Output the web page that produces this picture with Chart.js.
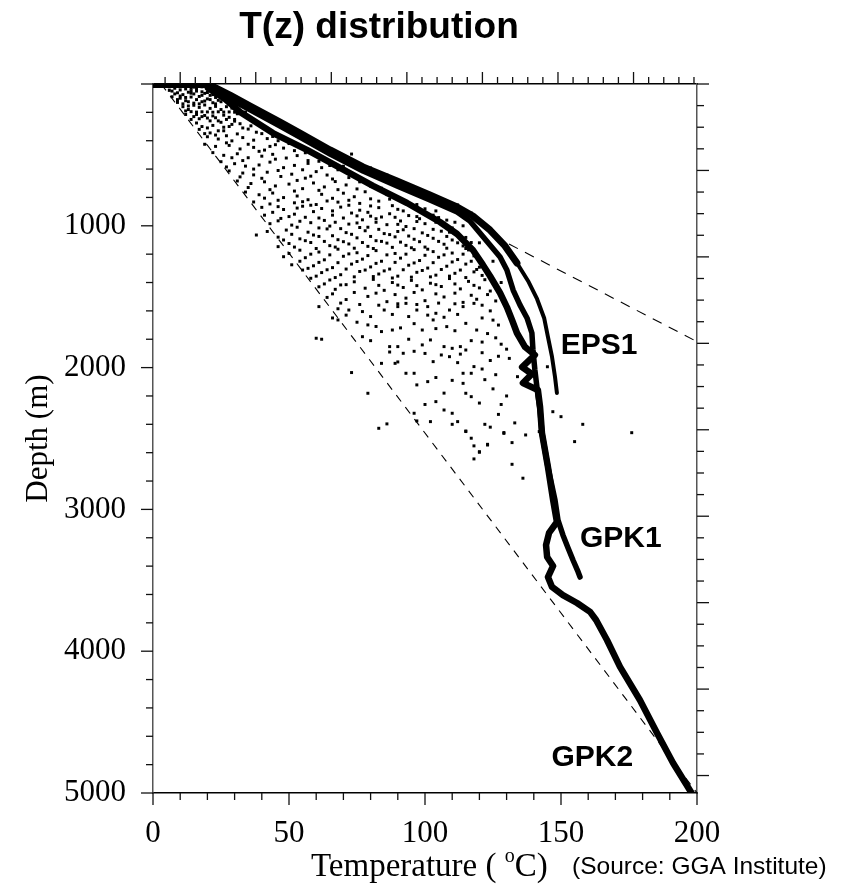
<!DOCTYPE html>
<html>
<head>
<meta charset="utf-8">
<title>T(z) distribution</title>
<script src="https://cdn.jsdelivr.net/npm/chart.js@4.4.1/dist/chart.umd.min.js"></script>
<style>
  html, body { margin: 0; padding: 0; background: #fff; }
  #wrap { width: 842px; height: 887px; }
</style>
</head>
<body>
<div id="wrap"><canvas id="tzChart" width="842" height="887"></canvas></div>
<script>
// axis ticks
const tempTicks = [0, 50, 100, 150, 200];          // deg C (bottom)
const depthTicks = [1000, 2000, 3000, 4000, 5000]; // m (left)

// well logs, [temperature degC, depth m]
const eps1 = [[20.2,0],[28.3,78],[35.7,155],[46.7,268],[54,346],[65.1,465],[77.2,585],[89.7,684],
  [101.8,783],[111.8,867],[117.6,931],[123.9,1030],[129.4,1142],[133.8,1262],[137.9,1389],
  [141.2,1516],[143.8,1650],[145.2,1784],[146.7,1925],[147.8,2066],[148.5,2179]];

const gpk1 = [[20.2,14],[28.3,106],[35.7,183],[46.7,296],[54,374],[65.1,494],[77.2,614],[89.7,719],
  [101.8,818],[111.8,903],[116.5,966],[120.2,1051],[123.9,1135],[127.6,1220],[130.1,1312],
  [132.4,1453],[134.9,1558],[137.5,1650],[139.3,1756],[139.7,1876],[140.4,2017],[141.5,2193],
  [142.3,2299],[143,2461],[145.2,2701],[147.8,2934],[148.9,3075],[150.7,3180],[152.6,3272],
  [154.4,3357],[156.3,3441],[157,3477]];

const gpk2 = [[20.2,28],[26.5,106],[32,197],[44.1,346],[56.6,465],[68.8,592],[80.9,719],[93.4,839],
  [105.5,973],[111.8,1058],[117.6,1171],[121.3,1276],[123.9,1354],[127.6,1474],[130.1,1573],
  [132,1664],[133.8,1756],[136.8,1855],[140.4,1911],[135.7,1996],[139.3,2045],[136,2109],
  [141.5,2158],[142.3,2278],[143,2461],[145.2,2701],[147.1,2934],[148.5,3089],[145.6,3166],
  [144.5,3251],[144.9,3336],[147.1,3399],[145.2,3477],[146.7,3547],[150.7,3604],[155.9,3660],
  [160.7,3723],[162.9,3780],[166.9,3921],[171.7,4111],[179,4344],[185.3,4577],[191.2,4788],[198,5000]];

const surfaceBand = [[0,0],[20,0]];
const gradLow = [[3,0],[200,5000]];
const gradHigh = [[125,1070],[200,1817]];

// scattered temperature readings from other wells
const wellDots = [
  [5,8],[7,12],[9,5],[11,18],[13,10],[15,22],[17,8],[19,15],[8,30],[10,42],[12,35],[14,48],[16,38],
  [18,55],[20,28],[22,45],[6,20],[9,62],[11,75],[13,58],[15,70],[17,88],[19,66],[21,80],[23,95],
  [10,100],[12,118],[14,92],[16,110],[18,125],[20,105],[22,132],[24,115],[11,140],[13,155],[15,135],
  [17,165],[19,148],[21,172],[23,158],[25,180],[14,195],[16,198],[18,196],[20,197],[22,199],[24,196],
  [26,198],[28,197],[30,199],[32,197],[34,198],[12,215],[15,230],[17,245],[19,222],[21,260],[23,238],
  [25,270],[27,250],[29,285],[16,275],[18,300],[22,292],[26,305],[30,262],[13,180],[9,130],[7,90],
  [6,45],[8,70],[10,85],[12,95],[14,65],[16,50],[18,80],[20,60],[22,75],[24,55],[9,110],[11,160],
  [13,125],[15,150],[17,140],[19,120],[21,110],[23,140],[25,125],[27,160],[12,190],[14,250],[16,215],
  [18,230],[20,240],[22,225],[24,260],[26,220],[28,235],[30,250],[32,280],[20,310],[24,330],[28,300],
  [33,310],[36,295],[10,20],[14,30],[18,20],[22,20],[7,50],[21,25],[23,35],[25,90],[26,100],[28,130],
  [29,170],[31,210],[35,240],[38,270],
  [17,320],[21,345],[26,330],[31,352],[35,318],[38,340],[20,372],[24,388],[29,401],[33,378],[37,396],
  [42,385],[19,425],[23,440],[28,433],[32,458],[37,447],[41,466],[45,428],[48,452],[22,484],[26,503],
  [31,492],[35,520],[40,509],[44,496],[49,522],[53,505],[25,548],[30,562],[34,579],[39,571],[43,551],
  [48,590],[52,574],[57,560],[61,545],[28,613],[33,628],[37,641],[42,622],[47,652],[51,636],[56,664],
  [60,618],[64,642],[68,605],[31,684],[36,702],[41,690],[45,719],[50,706],[55,738],[59,698],[63,726],
  [67,688],[71,712],[34,762],[39,781],[44,769],[48,801],[53,790],[57,816],[62,778],[66,806],[70,770],
  [74,795],[78,760],[37,832],[43,846],[52,838],[60,850],[68,833],[76,842],[83,826],[87,812],
  [19,350],[23,360],[27,365],[40,350],[44,370],[46,400],[50,420],[27,415],[35,425],[39,475],[43,440],
  [52,470],[56,485],[29,520],[33,540],[45,530],[57,540],[63,530],[65,575],[27,585],[37,600],[46,610],
  [55,605],[62,590],[70,580],[32,655],[40,665],[53,680],[58,650],[66,670],[72,660],[76,690],[35,730],
  [43,745],[52,755],[61,750],[68,745],[75,740],[80,720],[84,735],[41,805],[46,820],[55,830],[64,825],
  [72,820],[80,810],[86,780],[90,800],[92,830],[46,865],[58,855],[72,855],[80,860],[88,858],[97,850],
  [73,494],[80,592],[86,642],[112,853],[117,910],[109,853],
  [40,870],[48,885],[55,862],[62,878],[69,868],[76,890],[83,872],[90,884],[96,866],
  [44,905],[52,918],[59,900],[66,925],[73,910],[80,932],[87,915],[94,928],[100,908],[104,895],
  [47,948],[56,940],[63,962],[70,945],[77,958],[84,938],[91,966],[98,950],[105,942],
  [43,985],[51,995],[58,978],[65,1002],[72,988],[79,1010],[86,992],[93,1005],[100,985],[107,998],[111,975],
  [49,1030],[57,1045],[64,1022],[71,1048],[78,1035],[85,1055],[92,1028],[99,1050],[106,1038],[112,1060],
  [38,1065],[46,1080],[54,1092],[61,1075],[68,1098],[75,1085],[82,1105],[89,1078],[96,1095],[103,1088],
  [110,1100],[115,1082],[50,1125],[58,1118],[65,1140],[72,1128],[79,1145],[86,1122],[93,1138],[100,1150],
  [107,1130],[114,1142],[117,1118],[46,1147],[54,1172],[61,1185],[68,1165],[75,1190],[82,1175],[89,1195],
  [96,1168],[103,1182],[110,1192],[116,1170],[48,1218],[56,1225],[63,1240],[70,1215],[77,1235],[84,1250],
  [91,1228],[98,1245],[105,1222],[112,1238],[118,1212],[51,1275],[59,1282],[66,1295],[73,1270],[80,1290],
  [87,1305],[94,1278],[101,1298],[108,1285],[115,1270],[120,1292],[55,1312],[62,1330],[69,1345],[76,1322],
  [83,1340],[90,1355],[97,1328],[104,1348],[111,1335],[118,1325],[65,1382],[69,1417],[58,1370],[74,1395],
  [81,1378],[88,1400],[95,1385],[102,1405],[109,1372],[116,1392],[122,1380],[61,1430],[67,1448],[78,1440],
  [85,1455],[92,1435],[99,1452],[106,1428],[113,1445],[120,1438],[124,1460],
  [114,1000],[120,1120],[125,1250],[128,1400],
  [53,875],[66,895],[79,905],[92,895],[100,880],[41,925],[50,935],[61,945],[75,930],[82,950],[89,940],
  [97,935],[103,925],[108,960],[46,965],[54,968],[67,975],[75,980],[82,975],[90,990],[97,970],[104,975],
  [110,1015],[53,1010],[61,1015],[69,1020],[76,1012],[83,1025],[90,1040],[96,1020],[103,1025],[109,1045],
  [42,1040],[51,1060],[59,1065],[66,1070],[73,1060],[80,1075],[87,1062],[94,1072],[101,1068],[108,1075],
  [113,1095],[48,1100],[56,1105],[63,1110],[70,1112],[77,1118],[84,1110],[91,1115],[98,1112],[105,1110],
  [112,1120],[52,1150],[60,1160],[67,1150],[74,1158],[81,1160],[88,1152],[95,1155],[101,1165],[108,1158],
  [115,1160],[50,1195],[58,1200],[65,1205],[72,1198],[79,1210],[86,1205],[93,1200],[100,1208],[107,1205],
  [114,1200],[54,1250],[61,1258],[68,1260],[75,1252],[82,1265],[89,1258],[96,1262],[103,1260],[110,1255],
  [117,1250],[57,1300],[64,1310],[71,1305],[78,1312],[85,1318],[92,1310],[99,1315],[106,1308],[113,1312],
  [119,1308],[60,1355],[67,1365],[74,1360],[81,1358],[88,1368],[95,1362],[102,1360],[109,1355],[115,1365],
  [121,1350],[63,1410],[71,1415],[83,1420],[90,1418],[97,1422],[104,1415],[111,1410],[118,1420],
  [64,1505],[71,1520],[79,1498],[86,1535],[93,1510],[100,1528],[107,1502],[114,1540],[119,1518],[126,1530],
  [61,1570],[68,1585],[72,1594],[77,1605],[85,1594],[90,1570],[93,1547],[97,1594],[101,1570],[104,1617],
  [109,1594],[114,1570],[118,1547],[124,1600],[66,1650],[68,1664],[75,1680],[79,1699],[84,1746],[88,1735],
  [96,1690],[99,1735],[103,1664],[108,1711],[115,1688],[119,1735],[127,1700],[60,1793],[62,1800],[77,1782],
  [87,1852],[90,1852],[92,1899],[99,1840],[107,1852],[110,1864],[113,1852],[115,1876],[121,1820],[130,1870],
  [126,1790],[84,1970],[89,1970],[103,1958],[106,1911],[109,1923],[118,1993],[124,1950],[131,1935],
  [134,2064],[145,1994],[73,2035],[93,2040],[96,2040],[114,2040],[117,2040],[97,2122],[101,2099],[114,2111],
  [115,2181],[117,2205],[79,2181],[122,2085],
  [66,1480],[74,1470],[82,1475],[89,1485],[96,1470],[104,1480],[111,1475],[117,1490],[123,1485],[69,1545],
  [76,1555],[83,1560],[90,1550],[97,1555],[105,1545],[111,1550],[121,1560],[71,1630],[80,1640],[88,1625],
  [94,1640],[101,1630],[107,1645],[112,1625],[121,1650],[125,1665],[82,1710],[91,1720],[104,1725],
  [111,1740],[123,1760],[80,1810],[94,1800],[102,1805],[117,1810],[128,1835],[87,1890],[96,1885],
  [100,1900],[113,1905],[121,1895],[127,1920],[90,1960],[112,1965],[121,2010],[126,2050],[104,2070],
  [110,2090],[125,2150],[130,2200],[128,2260],[107,2180],[120,2250],[127,2330],[124,2420],[133,2390],[100,2260],
  [104,2240],[107,2299],[110,2322],[112,2381],[115,2451],[117,2498],[118,2552],[102,2381],[96,2322],
  [83,2428],[86,2397],[97,2376],[110,2400],[115,2447],[120,2597],[118,2644],[122,2400],[123,2541],
  [129,2458],[132,2529],[137,2475],[132,2682],[136,2780],[142,2451],[158,2400],[155,2522],[176,2459],
  [147,2311],[150,2346],[129,2464],[123,2546],[120,2593]
];

const wellNames = ['EPS1', 'GPK1', 'GPK2'];
const labelAnchors = [[164, 1848], [172, 3205], [161.5, 4750]];

const toXY = arr => arr.map(p => ({ x: p[0], y: p[1] }));
const serif = 'Liberation Serif';
const sans = 'Liberation Sans';

// minor/major tick marks on all four sides
const tickSpec = {
  x:  { minor: 10,  major: 50,   dir: 1 },
  x2: { minor: 10,  major: 50,   dir: -1 },
  y:  { minor: 200, major: 1000, dir: -1 },
  y2: { minor: 500, major: 2000, dir: 1 }
};

const decorPlugin = {
  id: 'decor',
  afterDraw(chart) {
    const ctx = chart.ctx;
    const area = chart.chartArea;
    ctx.save();
    ctx.strokeStyle = '#111';
    ctx.lineWidth = 1.3;
    Object.keys(tickSpec).forEach(id => {
      const s = chart.scales[id];
      const spec = tickSpec[id];
      const horiz = s.isHorizontal();
      const base = id === 'x' ? area.bottom : id === 'x2' ? area.top : id === 'y' ? area.left : area.right;
      const lo = Math.min(s.min, s.max), hi = Math.max(s.min, s.max);
      for (let v = Math.ceil(lo / spec.minor) * spec.minor; v <= hi + 1e-6; v += spec.minor) {
        const p = s.getPixelForValue(v);
        const len = (Math.abs(v % spec.major) < 1e-6) ? 12 : 7;
        ctx.beginPath();
        if (horiz) { ctx.moveTo(p, base); ctx.lineTo(p, base + spec.dir * len); }
        else { ctx.moveTo(base, p); ctx.lineTo(base + spec.dir * len, p); }
        ctx.stroke();
      }
    });

    // well names
    const xs = chart.scales.x, ys = chart.scales.y;
    ctx.fillStyle = '#000';
    ctx.font = 'bold 30px "' + sans + '"';
    ctx.textAlign = 'center';
    ctx.textBaseline = 'middle';
    wellNames.forEach((n, i) => {
      ctx.fillText(n, xs.getPixelForValue(labelAnchors[i][0]), ys.getPixelForValue(labelAnchors[i][1]));
    });

    // title
    ctx.font = 'bold 37px "' + sans + '"';
    ctx.fillText('T(z) distribution', 379, 28);

    // x axis title with superscript o
    ctx.textAlign = 'left';
    ctx.textBaseline = 'alphabetic';
    const base = 876;
    let x = 311;
    ctx.font = '33px "' + serif + '"';
    const p1 = 'Temperature ( ';
    ctx.fillText(p1, x, base);
    x += ctx.measureText(p1).width;
    ctx.font = '20px "' + serif + '"';
    ctx.fillText('o', x, base - 14);
    x += ctx.measureText('o').width;
    ctx.font = '33px "' + serif + '"';
    ctx.fillText('C)', x, base);
    ctx.font = '24.5px "' + sans + '"';
    ctx.fillText('(Source: GGA Institute)', 572, base - 2);
    ctx.restore();
  }
};

const lineDs = (data, w, dash) => ({
  data: toXY(data), showLine: true, borderColor: '#000', borderWidth: w,
  borderDash: dash || [], pointRadius: 0, fill: false, tension: 0,
  borderJoinStyle: 'round', borderCapStyle: dash ? 'butt' : 'round'
});

// EPS1 log is thick in its upper part, thin below
const eps1Ds = lineDs(eps1, 4);
eps1Ds.segment = { borderWidth: c => (c.p0.parsed.y < 1250 ? 7 : 4) };

new Chart(document.getElementById('tzChart'), {
  type: 'scatter',
  data: {
    datasets: [
      lineDs(gpk2, 6.5),
      lineDs(gpk1, 5.5),
      eps1Ds,
      lineDs(surfaceBand, 8),
      lineDs(gradLow, 1.1, [8, 7]),
      lineDs(gradHigh, 1.1, [10, 8]),
      {
        data: toXY(wellDots), showLine: false, pointStyle: 'rect', pointRadius: 2.1,
        pointBorderWidth: 0, pointBackgroundColor: '#000', borderColor: '#000'
      }
    ]
  },
  options: {
    responsive: false,
    animation: false,
    events: [],
    layout: { padding: { top: 84, right: 145, bottom: 0, left: 0 } },
    plugins: { legend: { display: false }, tooltip: { enabled: false }, title: { display: false } },
    scales: {
      x: {
        type: 'linear', position: 'bottom', min: 0, max: 200,
        afterFit: s => { s.height = 94; },
        afterBuildTicks: s => { s.ticks = tempTicks.map(v => ({ value: v })); },
        grid: { display: false, drawTicks: false },
        border: { display: true, color: '#000', width: 1.5 },
        ticks: { padding: 22, color: '#000', font: { family: serif, size: 31 }, callback: v => String(v) }
      },
      x2: {
        type: 'linear', position: 'top', min: 32, max: 392,
        afterFit: s => { s.height = 0; },
        grid: { display: false, drawTicks: false },
        border: { display: true, color: '#000', width: 1.5 },
        ticks: { display: false }
      },
      y: {
        type: 'linear', position: 'left', min: 0, max: 5000, reverse: true,
        afterFit: s => { s.width = 153; },
        afterBuildTicks: s => { s.ticks = depthTicks.map(v => ({ value: v })); },
        grid: { display: false, drawTicks: false },
        border: { display: true, color: '#555', width: 1.5 },
        ticks: { padding: 27, color: '#000', font: { family: serif, size: 31 }, callback: v => String(v) },
        title: { display: true, text: 'Depth (m)', color: '#000', padding: { top: 20, bottom: 0 },
                 font: { family: serif, size: 31 } }
      },
      y2: {
        type: 'linear', position: 'right', min: 0, max: 16404, reverse: true,
        afterFit: s => { s.width = 0; },
        grid: { display: false, drawTicks: false },
        border: { display: true, color: '#555', width: 1.5 },
        ticks: { display: false }
      }
    }
  },
  plugins: [decorPlugin]
});
</script>
</body>
</html>
